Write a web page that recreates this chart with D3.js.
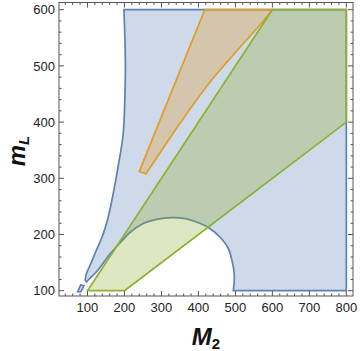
<!DOCTYPE html>
<html><head><meta charset="utf-8">
<script src="https://cdn.jsdelivr.net/npm/d3@7"></script>
<style>body{margin:0;background:#fff}svg{display:block}</style>
</head><body>
<svg id="chart" width="360" height="351"></svg>
<script>
// ---- data ----
const xTicks = [100, 200, 300, 400, 500, 600, 700, 800];
const yTicks = [100, 200, 300, 400, 500, 600];
const xMinor = d3.range(40, 801, 20).filter(v => v % 100 !== 0);
const yMinor = d3.range(100, 601, 20).filter(v => v % 100 !== 0);

// blue region: outer straight edges, lower arc (right end -> left tip), left boundary (bottom -> top)
const blueEdges = [[198.5, 600], [800, 600], [800, 100], [494.3, 100]];
const blueArc = [[494.3, 100], [496.2, 111.9], [497.0, 129.7], [491.0, 152.8], [480.2, 176.0],
  [457.8, 195.6], [430.8, 210.7], [403.8, 219.9], [367.9, 227.9], [328.2, 230.2], [286.9, 227.0],
  [250.7, 219.6], [214.8, 203.6], [187.8, 184.9], [160.8, 165.3], [128.4, 136.8], [99.5, 117.3]];
const blueTip = [[99.5, 117.3], [97.3, 115.5], [93.8, 119.0], [96.0, 127.9]];
const blueLeft = [[96.0, 127.9], [100, 135.0], [110.8, 151.0], [124.3, 172.4], [140.5, 197.3],
  [154.0, 225.8], [166.2, 261.4], [176.5, 297.0], [184.5, 327.2], [190.5, 350.3], [196.8, 380.6],
  [201.0, 439.3], [202.5, 498.6], [200.8, 558.5], [198.5, 600]];
const blueSmall = [[73.5, 98.2], [81.6, 110.1], [90.5, 108.9], [82.4, 98.2]];

// orange region
const orangeLeft = [[417, 600], [240, 312], [258, 308]];
const orangeRight = [[258, 308], [300, 349], [344, 392], [390, 435], [431, 471], [480, 509],
  [530, 546], [570, 576], [600, 600]];

// green region
const greenPoly = [[100, 100], [200, 100], [800, 400], [800, 600], [600, 600]];

// ---- layout ----
const svg = d3.select('#chart');
const L = 59, R = 353, T = 2.5, B = 296;
const x = d3.scaleLinear().domain([23, 818]).range([L, R]);
const y = d3.scaleLinear().domain([90.6, 612.8]).range([B, T]);

const BLUE = '#5E81B5', ORANGE = '#E19C24', GREEN = '#8FB032';
const SW = 1.7;

function line(curve) { return d3.line().x(d => x(d[0])).y(d => y(d[1])).curve(curve); }
function joinPath(parts) {
  return parts.map((p, i) => {
    const s = line(p[1])(p[0]);
    return i === 0 ? s : 'L' + s.slice(1);
  }).join('') + 'Z';
}

svg.append('clipPath').attr('id', 'clip').append('rect')
  .attr('x', L).attr('y', T).attr('width', R - L).attr('height', B - T);
const g = svg.append('g').attr('clip-path', 'url(#clip)');

const blueD = joinPath([[blueEdges, d3.curveLinear], [blueArc, d3.curveCatmullRom],
  [blueTip, d3.curveLinear], [blueLeft, d3.curveCatmullRom]]);
g.append('path').attr('d', blueD).attr('fill', BLUE).attr('fill-opacity', 0.3)
  .attr('stroke', BLUE).attr('stroke-width', SW).attr('stroke-linejoin', 'round');
g.append('path').attr('d', line(d3.curveLinear)(blueSmall) + 'Z').attr('fill', BLUE).attr('fill-opacity', 0.3)
  .attr('stroke', BLUE).attr('stroke-width', SW);

const orangeD = joinPath([[orangeLeft, d3.curveLinear], [orangeRight, d3.curveCatmullRom]]);
g.append('path').attr('d', orangeD).attr('fill', ORANGE).attr('fill-opacity', 0.3)
  .attr('stroke', ORANGE).attr('stroke-width', SW).attr('stroke-linejoin', 'round');

g.append('path').attr('d', line(d3.curveLinear)(greenPoly) + 'Z').attr('fill', GREEN).attr('fill-opacity', 0.3)
  .attr('stroke', GREEN).attr('stroke-width', SW).attr('stroke-linejoin', 'round');

// ---- frame & ticks ----
const AX = '#555';
svg.append('rect').attr('x', L).attr('y', T).attr('width', R - L).attr('height', B - T)
  .attr('fill', 'none').attr('stroke', AX).attr('stroke-width', 1);

const tk = svg.append('g').attr('stroke', AX).attr('stroke-width', 1);
xTicks.forEach(v => {
  tk.append('line').attr('x1', x(v)).attr('x2', x(v)).attr('y1', B).attr('y2', B - 5);
  tk.append('line').attr('x1', x(v)).attr('x2', x(v)).attr('y1', T).attr('y2', T + 5);
});
xMinor.forEach(v => {
  tk.append('line').attr('x1', x(v)).attr('x2', x(v)).attr('y1', B).attr('y2', B - 2.5);
  tk.append('line').attr('x1', x(v)).attr('x2', x(v)).attr('y1', T).attr('y2', T + 2.5);
});
yTicks.forEach(v => {
  tk.append('line').attr('y1', y(v)).attr('y2', y(v)).attr('x1', L).attr('x2', L + 5);
  tk.append('line').attr('y1', y(v)).attr('y2', y(v)).attr('x1', R).attr('x2', R - 5);
});
yMinor.forEach(v => {
  tk.append('line').attr('y1', y(v)).attr('y2', y(v)).attr('x1', L).attr('x2', L + 2.5);
  tk.append('line').attr('y1', y(v)).attr('y2', y(v)).attr('x1', R).attr('x2', R - 2.5);
});

const FONT = "'Liberation Sans', Arial, sans-serif";
svg.append('g').selectAll('text').data(xTicks).join('text')
  .attr('x', d => x(d)).attr('y', 312).attr('text-anchor', 'middle')
  .attr('font-family', FONT).attr('font-size', 13).attr('fill', '#222').text(d => d);
svg.append('g').selectAll('text').data(yTicks).join('text')
  .attr('x', 55).attr('y', d => y(d)).attr('dy', '0.36em').attr('text-anchor', 'end')
  .attr('font-family', FONT).attr('font-size', 13).attr('fill', '#222').text(d => d);

// axis titles
const xt = svg.append('text').attr('x', 206).attr('y', 345).attr('text-anchor', 'middle')
  .attr('font-family', FONT).attr('font-weight', 'bold').attr('fill', '#111');
xt.append('tspan').attr('font-style', 'italic').attr('font-size', 24).text('M');
xt.append('tspan').attr('font-size', 15).attr('dy', 4).text('2');

const yt = svg.append('text').attr('transform', 'translate(25,151) rotate(-90)').attr('text-anchor', 'middle')
  .attr('font-family', FONT).attr('font-weight', 'bold').attr('font-style', 'italic').attr('fill', '#111');
yt.append('tspan').attr('font-size', 24).text('m');
yt.append('tspan').attr('font-size', 15).attr('dy', 4).text('L');
</script>
</body></html>
